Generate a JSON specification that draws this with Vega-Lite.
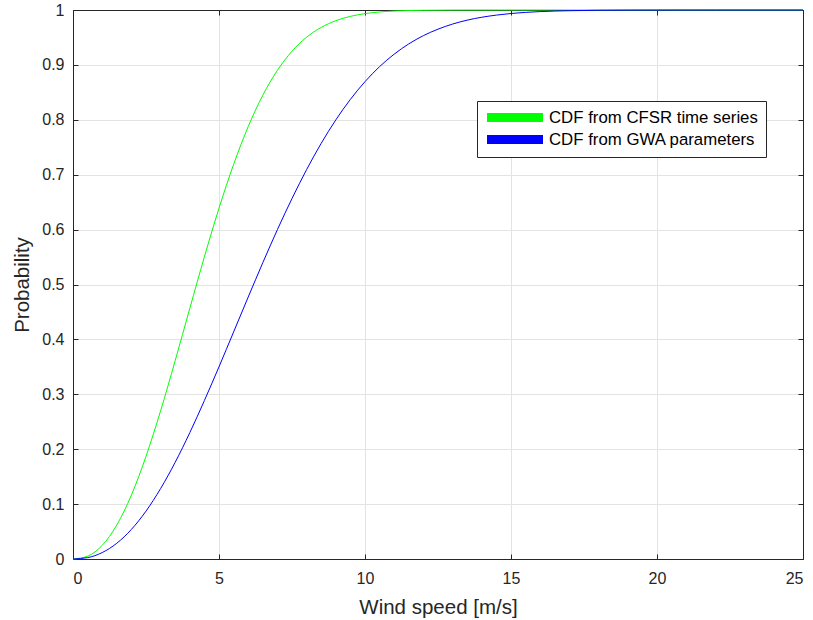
{
  "$schema": "https://vega.github.io/schema/vega-lite/v6.json",
  "width": 730,
  "height": 549,
  "autosize": {"type": "none"},
  "padding": {"left": 73, "top": 10, "right": 10, "bottom": 61},
  "background": "white",
  "config": {
    "font": "Liberation Sans",
    "view": {"stroke": "#262626", "strokeWidth": 1},
    "axis": {
      "labelFont": "Liberation Sans",
      "titleFont": "Liberation Sans",
      "labelFontSize": 16,
      "labelColor": "#262626",
      "titleColor": "#262626",
      "titleFontSize": 20.5,
      "titleFontWeight": "normal",
      "domainColor": "#262626",
      "tickColor": "#262626",
      "tickSize": -5,
      "gridColor": "#e3e3e3",
      "gridWidth": 1
    }
  },
  "data": {
    "values": [
      {"x": 0, "p": 0, "s": "CDF from CFSR time series"},
      {"x": 0.5, "p": 0.0051, "s": "CDF from CFSR time series"},
      {"x": 1, "p": 0.0248, "s": "CDF from CFSR time series"},
      {"x": 1.5, "p": 0.0619, "s": "CDF from CFSR time series"},
      {"x": 2, "p": 0.1164, "s": "CDF from CFSR time series"},
      {"x": 2.5, "p": 0.1869, "s": "CDF from CFSR time series"},
      {"x": 3, "p": 0.2699, "s": "CDF from CFSR time series"},
      {"x": 3.5, "p": 0.3614, "s": "CDF from CFSR time series"},
      {"x": 4, "p": 0.4565, "s": "CDF from CFSR time series"},
      {"x": 4.5, "p": 0.5505, "s": "CDF from CFSR time series"},
      {"x": 5, "p": 0.6389, "s": "CDF from CFSR time series"},
      {"x": 5.5, "p": 0.7187, "s": "CDF from CFSR time series"},
      {"x": 6, "p": 0.7876, "s": "CDF from CFSR time series"},
      {"x": 6.5, "p": 0.8447, "s": "CDF from CFSR time series"},
      {"x": 7, "p": 0.8901, "s": "CDF from CFSR time series"},
      {"x": 7.5, "p": 0.9249, "s": "CDF from CFSR time series"},
      {"x": 8, "p": 0.9504, "s": "CDF from CFSR time series"},
      {"x": 8.5, "p": 0.9683, "s": "CDF from CFSR time series"},
      {"x": 9, "p": 0.9805, "s": "CDF from CFSR time series"},
      {"x": 9.5, "p": 0.9884, "s": "CDF from CFSR time series"},
      {"x": 10, "p": 0.9934, "s": "CDF from CFSR time series"},
      {"x": 11, "p": 0.9981, "s": "CDF from CFSR time series"},
      {"x": 12, "p": 0.9995, "s": "CDF from CFSR time series"},
      {"x": 13, "p": 0.9999, "s": "CDF from CFSR time series"},
      {"x": 14, "p": 1, "s": "CDF from CFSR time series"},
      {"x": 16, "p": 1, "s": "CDF from CFSR time series"},
      {"x": 18, "p": 1, "s": "CDF from CFSR time series"},
      {"x": 20, "p": 1, "s": "CDF from CFSR time series"},
      {"x": 22, "p": 1, "s": "CDF from CFSR time series"},
      {"x": 25, "p": 1, "s": "CDF from CFSR time series"},
      {"x": 0, "p": 0, "s": "CDF from GWA parameters"},
      {"x": 0.5, "p": 0.0025, "s": "CDF from GWA parameters"},
      {"x": 1, "p": 0.0117, "s": "CDF from GWA parameters"},
      {"x": 1.5, "p": 0.0287, "s": "CDF from GWA parameters"},
      {"x": 2, "p": 0.0539, "s": "CDF from GWA parameters"},
      {"x": 2.5, "p": 0.0872, "s": "CDF from GWA parameters"},
      {"x": 3, "p": 0.1283, "s": "CDF from GWA parameters"},
      {"x": 3.5, "p": 0.1762, "s": "CDF from GWA parameters"},
      {"x": 4, "p": 0.2301, "s": "CDF from GWA parameters"},
      {"x": 4.5, "p": 0.2886, "s": "CDF from GWA parameters"},
      {"x": 5, "p": 0.3501, "s": "CDF from GWA parameters"},
      {"x": 5.5, "p": 0.4135, "s": "CDF from GWA parameters"},
      {"x": 6, "p": 0.4771, "s": "CDF from GWA parameters"},
      {"x": 6.5, "p": 0.5397, "s": "CDF from GWA parameters"},
      {"x": 7, "p": 0.5999, "s": "CDF from GWA parameters"},
      {"x": 7.5, "p": 0.6566, "s": "CDF from GWA parameters"},
      {"x": 8, "p": 0.7093, "s": "CDF from GWA parameters"},
      {"x": 8.5, "p": 0.7571, "s": "CDF from GWA parameters"},
      {"x": 9, "p": 0.7998, "s": "CDF from GWA parameters"},
      {"x": 9.5, "p": 0.8372, "s": "CDF from GWA parameters"},
      {"x": 10, "p": 0.8695, "s": "CDF from GWA parameters"},
      {"x": 10.5, "p": 0.8969, "s": "CDF from GWA parameters"},
      {"x": 11, "p": 0.9196, "s": "CDF from GWA parameters"},
      {"x": 11.5, "p": 0.9383, "s": "CDF from GWA parameters"},
      {"x": 12, "p": 0.9533, "s": "CDF from GWA parameters"},
      {"x": 12.5, "p": 0.9651, "s": "CDF from GWA parameters"},
      {"x": 13, "p": 0.9744, "s": "CDF from GWA parameters"},
      {"x": 13.5, "p": 0.9815, "s": "CDF from GWA parameters"},
      {"x": 14, "p": 0.9868, "s": "CDF from GWA parameters"},
      {"x": 14.5, "p": 0.9907, "s": "CDF from GWA parameters"},
      {"x": 15, "p": 0.9936, "s": "CDF from GWA parameters"},
      {"x": 16, "p": 0.9971, "s": "CDF from GWA parameters"},
      {"x": 17, "p": 0.9987, "s": "CDF from GWA parameters"},
      {"x": 18, "p": 0.9995, "s": "CDF from GWA parameters"},
      {"x": 19, "p": 0.9998, "s": "CDF from GWA parameters"},
      {"x": 20, "p": 0.9999, "s": "CDF from GWA parameters"},
      {"x": 22, "p": 1, "s": "CDF from GWA parameters"},
      {"x": 25, "p": 1, "s": "CDF from GWA parameters"}
    ]
  },
  "layer": [
    {
      "mark": {"type": "line", "strokeWidth": 1, "interpolate": "monotone", "strokeJoin": "round"},
      "encoding": {
        "x": {
          "field": "x", "type": "quantitative",
          "scale": {"domain": [0, 25], "nice": false},
          "axis": {"orient": "bottom", "title": "Wind speed [m/s]", "values": [0, 5, 10, 15, 20, 25], "labelPadding": 16, "titlePadding": 11, "grid": true}
        },
        "y": {
          "field": "p", "type": "quantitative",
          "scale": {"domain": [0, 1], "nice": false},
          "axis": {"orient": "left", "title": "Probability", "values": [0, 0.1, 0.2, 0.3, 0.4, 0.5, 0.6, 0.7, 0.8, 0.9, 1], "format": ".1~f", "labelPadding": 14, "titlePadding": 9, "grid": true}
        },
        "color": {
          "field": "s", "type": "nominal",
          "scale": {"domain": ["CDF from CFSR time series", "CDF from GWA parameters"], "range": ["#00ff00", "#0000ff"]},
          "legend": {
            "title": null, "orient": "none", "legendX": 404, "legendY": 91,
            "strokeColor": "#262626", "fillColor": "white", "padding": 8,
            "symbolType": "M-1.625,0H12.375", "symbolSize": 64, "symbolStrokeWidth": 9,
            "labelFontSize": 16.8, "labelColor": "black", "labelLimit": 400, "rowPadding": 4, "labelOffset": 47,
            "encode": {"symbols": {"update": {"strokeJoin": {"value": "bevel"}}}}
          }
        }
      }
    },
    {
      "mark": {"type": "point", "opacity": 0},
      "encoding": {
        "x": {"field": "x", "type": "quantitative", "axis": {"orient": "top", "title": null, "labels": false, "grid": false, "values": [0, 5, 10, 15, 20, 25]}},
        "y": {"field": "p", "type": "quantitative", "axis": {"orient": "right", "title": null, "labels": false, "grid": false, "values": [0, 0.1, 0.2, 0.3, 0.4, 0.5, 0.6, 0.7, 0.8, 0.9, 1]}}
      }
    }
  ],
  "resolve": {"axis": {"x": "independent", "y": "independent"}}
}
